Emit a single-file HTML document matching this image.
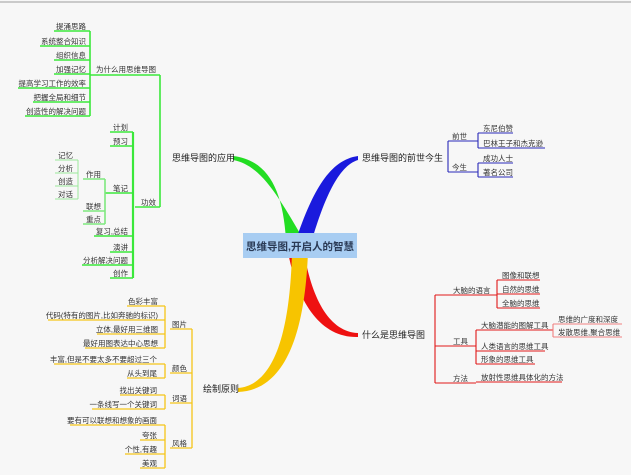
<!DOCTYPE html>
<html><head><meta charset="utf-8"><style>
html,body{margin:0;padding:0;background:#f7f7f7;}
svg{display:block;}
text{font-family:"Liberation Sans","Noto Sans CJK SC",sans-serif;font-size:7.5px;fill:#333;}
.m{font-size:9px;fill:#222;}
.g{stroke:#3be83b;stroke-width:1.6;fill:none;}
.y{stroke:#f5c518;stroke-width:1.3;fill:none;}
.b{stroke:#2a2ab8;stroke-width:1.1;fill:none;}
.r{stroke:#e01818;stroke-width:1.1;fill:none;}
</style></head><body>
<svg width="631" height="475" viewBox="0 0 631 475">
<line x1="0" y1="2" x2="631" y2="2" stroke="#bbb" stroke-width="1.5"/>
<path d="M286,240 C283,190 268,160 233,156 L233,160 C262,165 280,200 304,240 Z" fill="#22dd22"/>
<path d="M296,240 C313,190 330,160 358,156 L358,160 C338,166 324,200 312,240 Z" fill="#1a1add"/>
<path d="M304,252 C312,300 330,332 358,333 L358,337 C322,338 298,305 288,252 Z" fill="#ee1111"/>
<path d="M292,252 C290,330 275,385 238,388 L238,392 C287,390 305,330 308,252 Z" fill="#f7c400"/>
<rect x="243" y="233" width="114" height="25" fill="#a8cdf2"/>
<text x="300" y="250" text-anchor="middle" style="font-size:10.5px;font-weight:bold;fill:#2a3a55">思维导图,开启人的智慧</text>
<text class="m" x="172" y="161">思维导图的应用</text>
<text class="m" x="362" y="161">思维导图的前世今生</text>
<text class="m" x="362" y="338">什么是思维导图</text>
<text class="m" x="203" y="392">绘制原则</text>

<path class="g" d="M160,75 V207"/>
<path class="g" d="M90,75 H160 M135,207 H160"/>
<text x="156" y="72" text-anchor="end">为什么用思维导图</text>
<text x="156" y="205" text-anchor="end">功效</text>
<path class="g" d="M90,31 V116"/>
<path class="g" d="M54,31H90 M40,46H90 M54,60H90 M54,74H90 M18,88H90 M33,102H90 M25,116H90"/>
<text x="86" y="29" text-anchor="end">提涌思路</text>
<text x="86" y="44" text-anchor="end">系统整合知识</text>
<text x="86" y="58" text-anchor="end">组织信息</text>
<text x="86" y="72" text-anchor="end">加强记忆</text>
<text x="86" y="86" text-anchor="end">提高学习工作的效率</text>
<text x="86" y="100" text-anchor="end">把握全局和细节</text>
<text x="86" y="114" text-anchor="end">创造性的解决问题</text>
<path class="g" d="M133,132 V278" style="stroke-width:2.2"/>
<path class="g" d="M110,132H133 M110,146H133 M105,193H133 M94,236H133 M110,252H133 M82,265H133 M110,278H133"/>
<text x="128" y="130" text-anchor="end">计划</text>
<text x="128" y="144" text-anchor="end">预习</text>
<text x="128" y="191" text-anchor="end">笔记</text>
<text x="128" y="234" text-anchor="end">复习,总结</text>
<text x="128" y="250" text-anchor="end">演讲</text>
<text x="128" y="263" text-anchor="end">分析解决问题</text>
<text x="128" y="276" text-anchor="end">创作</text>
<path class="g" d="M105,179 V224 M83,179H105 M83,211H105 M83,224H105" style="stroke:#7fe87f"/>
<text x="101" y="177" text-anchor="end">作用</text>
<text x="101" y="209" text-anchor="end">联想</text>
<text x="101" y="222" text-anchor="end">重点</text>
<path class="g" d="M78,160 V199 M55,160H78 M55,173H78 M55,186H78 M55,199H78" style="stroke:#9be89b;stroke-width:1"/>
<text x="73" y="158" text-anchor="end">记忆</text>
<text x="73" y="171" text-anchor="end">分析</text>
<text x="73" y="184" text-anchor="end">创造</text>
<text x="73" y="197" text-anchor="end">对话</text>

<path class="y" d="M192,329 V448 M170,329H192 M170,373H192 M170,403H192 M170,448H192"/>
<text x="187" y="327" text-anchor="end">图片</text>
<text x="187" y="371" text-anchor="end">颜色</text>
<text x="187" y="401" text-anchor="end">词语</text>
<text x="187" y="446" text-anchor="end">风格</text>
<path class="y" d="M165,306 V348 M127,306H165 M48,320H165 M97,334H165 M85,348H165"/>
<text x="158" y="304" text-anchor="end">色彩丰富</text>
<text x="158" y="318" text-anchor="end">代码(特有的图片,比如奔驰的标识)</text>
<text x="158" y="332" text-anchor="end">立体,最好用三维图</text>
<text x="158" y="346" text-anchor="end">最好用图表达中心思想</text>
<path class="y" d="M165,364 V378 M54,364H165 M127,378H165"/>
<text x="157" y="362" text-anchor="end">丰富,但是不要太多不要超过三个</text>
<text x="157" y="376" text-anchor="end">从头到尾</text>
<path class="y" d="M165,395 V409 M120,395H165 M92,409H165"/>
<text x="157" y="393" text-anchor="end">找出关键词</text>
<text x="157" y="407" text-anchor="end">一条线写一个关键词</text>
<path class="y" d="M165,425 V468 M70,425H165 M140,440H165 M125,454H165 M140,468H165"/>
<text x="157" y="423" text-anchor="end">要有可以联想和想象的画面</text>
<text x="157" y="438" text-anchor="end">夸张</text>
<text x="157" y="452" text-anchor="end">个性,有趣</text>
<text x="157" y="466" text-anchor="end">美观</text>

<path class="b" d="M448,141 V172 M448,141H478 M448,172H478"/>
<text x="452" y="139">前世</text>
<text x="452" y="170">今生</text>
<path class="b" d="M478,133 V148 M478,133H513 M478,148H545"/>
<text x="483" y="131">东尼伯赞</text>
<text x="483" y="146">巴林王子和杰克逊</text>
<path class="b" d="M478,163 V177 M478,163H513 M478,177H513"/>
<text x="483" y="161">成功人士</text>
<text x="483" y="175">著名公司</text>

<path class="r" d="M435,295 V383 M435,295H497 M435,346H476 M435,383H476"/>
<text x="453" y="293">大脑的语言</text>
<text x="453" y="344">工具</text>
<text x="453" y="381">方法</text>
<path class="r" d="M497,280 V308 M497,280H540 M497,294H540 M497,308H540"/>
<text x="502" y="278">图像和联想</text>
<text x="502" y="292">自然的思维</text>
<text x="502" y="306">全脑的思维</text>
<path class="r" d="M476,330 V364 M476,330H553 M476,351H545 M476,364H535 M476,382H562"/>
<text x="481" y="328">大脑潜能的图解工具</text>
<text x="481" y="349">人类语言的思维工具</text>
<text x="481" y="362">形象的思维工具</text>
<text x="481" y="380">放射性思维具体化的方法</text>
<path class="r" d="M553,324 V337 M553,324H622 M553,337H622" style="stroke:#f08080"/>
<text x="558" y="322">思维的广度和深度</text>
<text x="558" y="335">发散思维,聚合思维</text>
</svg>
</body></html>
